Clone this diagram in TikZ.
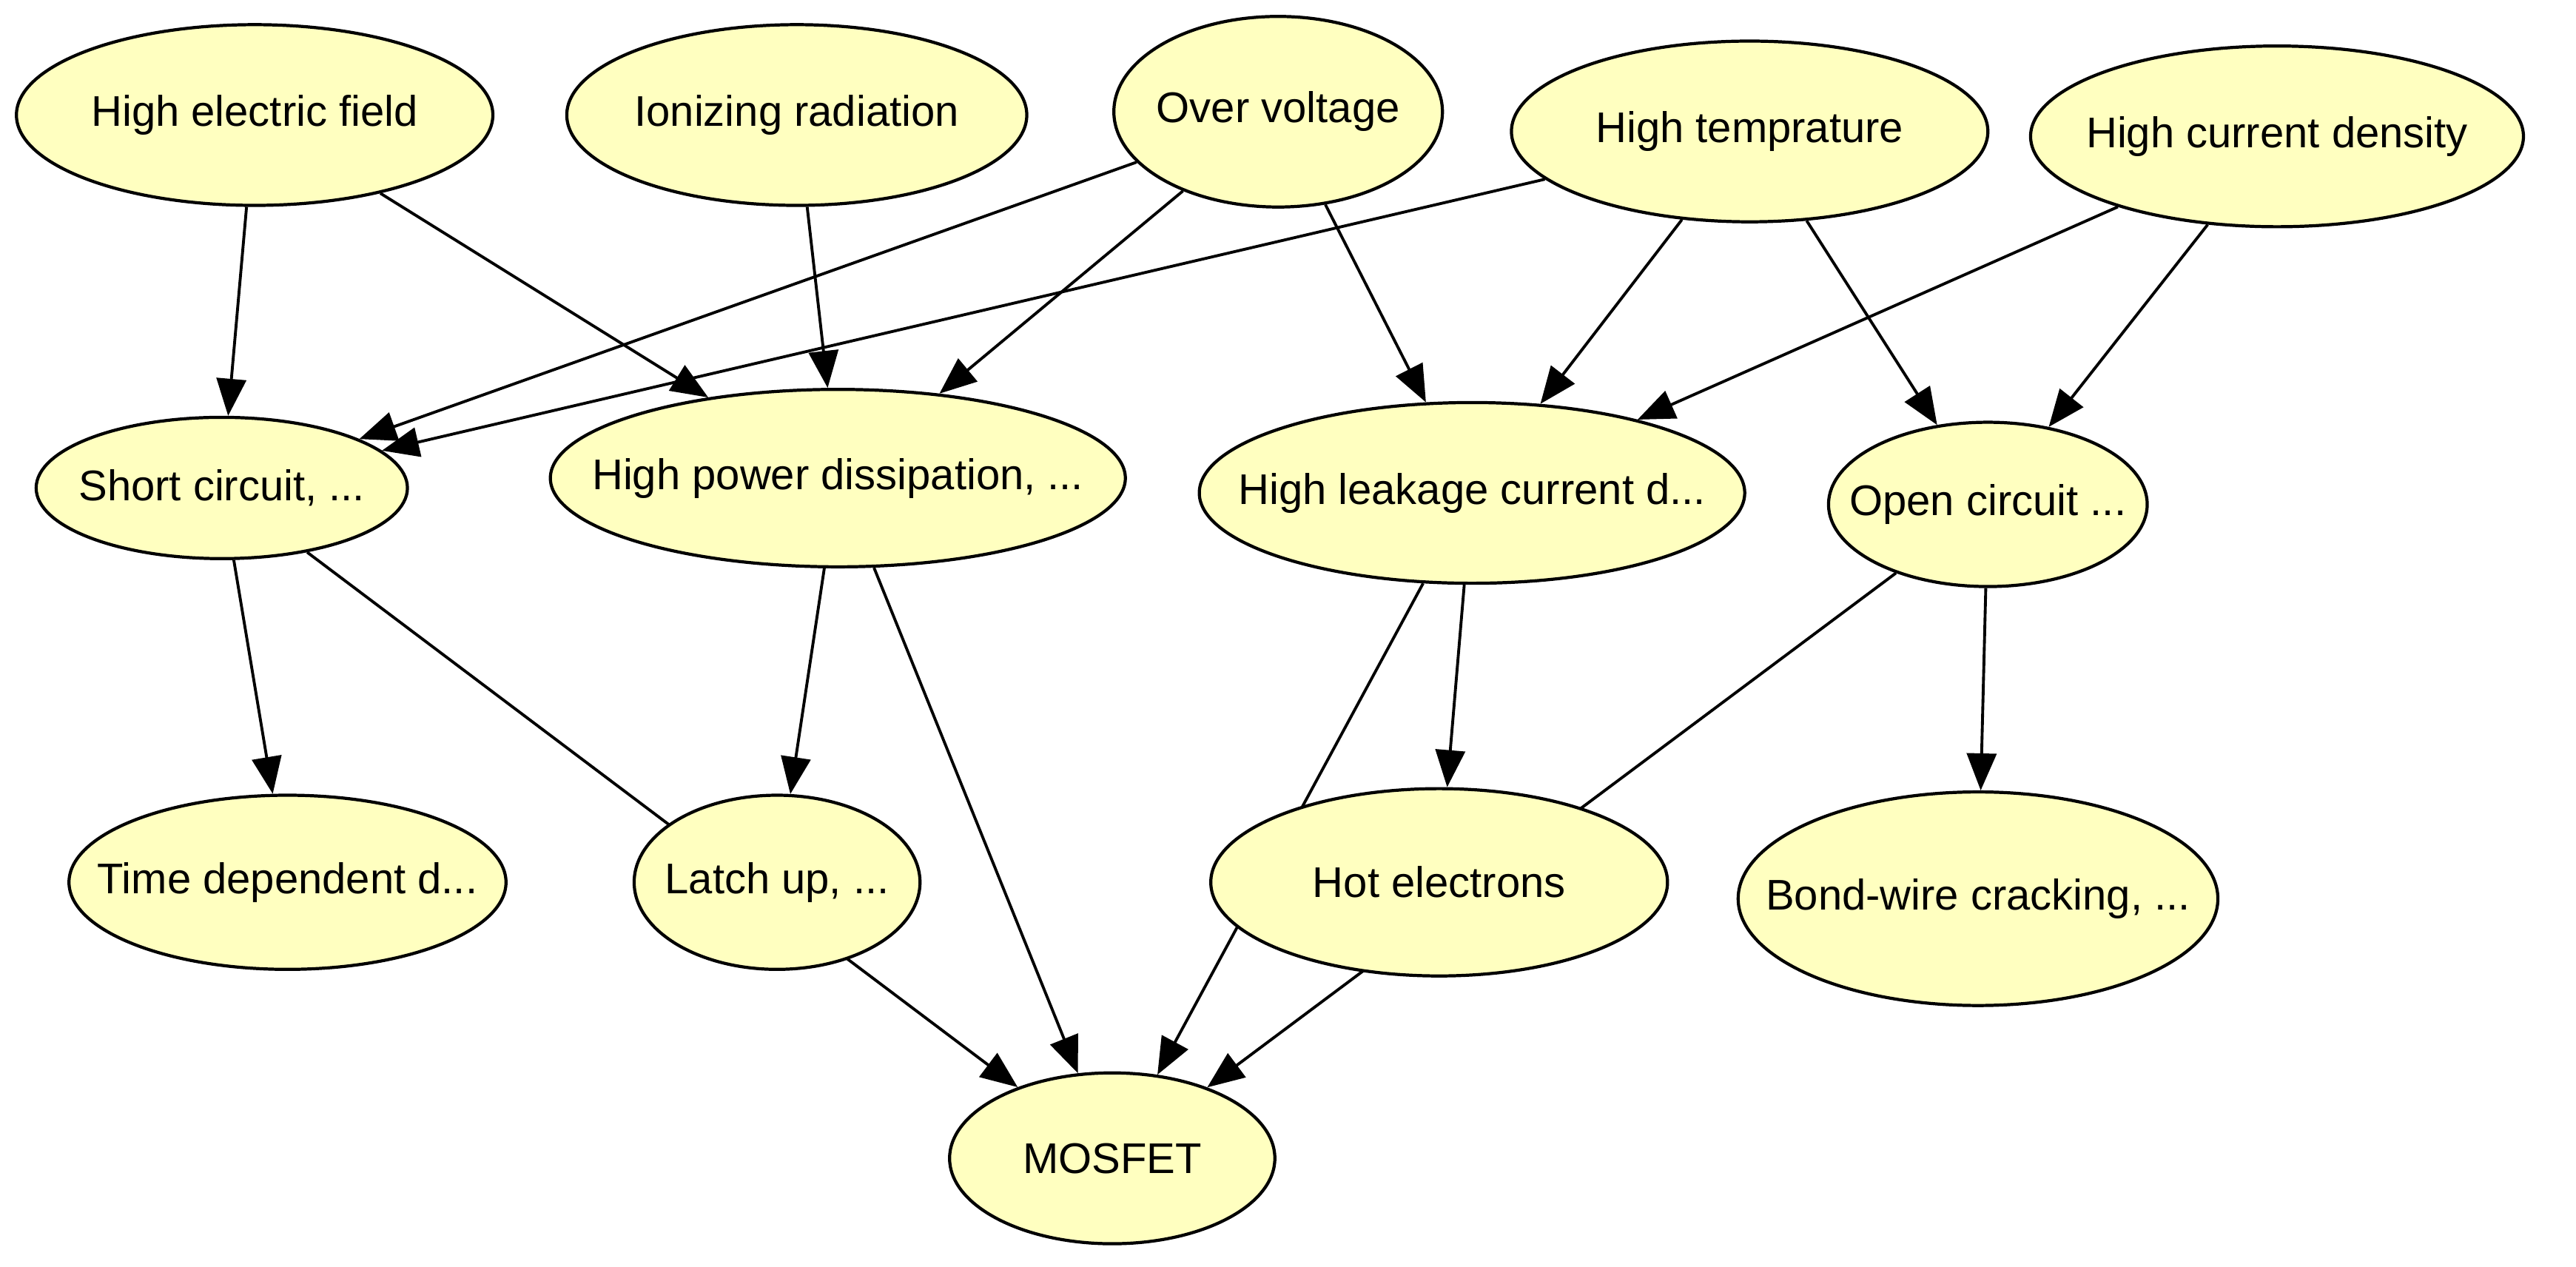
\documentclass[tikz,border=0pt]{standalone}
\usepackage{fontspec}
\setmainfont{Liberation Sans}
\usetikzlibrary{shapes.geometric,arrows.meta,backgrounds}
\definecolor{nodefill}{RGB}{255,255,192}
\begin{document}
\begin{tikzpicture}[x=0.0222cm,y=-0.0222cm,
  n/.style={ellipse,draw,line width=1.2pt,fill=nodefill,inner sep=0pt,font=\fontsize{16.5}{20}\selectfont},
  e/.style={line width=1.1pt,-{Triangle[length=0.5cm,width=0.4cm]}}]
\useasboundingbox (0,0) rectangle (1568,771);
\def\N#1#2#3#4#5#6{\node[n,minimum width=#4*0.0444cm,minimum height=#5*0.0444cm] (#1) at (#2,#3) {\makebox[0pt]{#6}};}
\N{hef}{155}{70}{145}{55}{High electric field}
\N{ir}{485}{70}{140}{55}{Ionizing radiation}
\N{ov}{778}{68}{100}{58}{Over voltage}
\N{ht}{1065}{80}{145}{55}{High temprature}
\N{hcd}{1386}{83}{150}{55}{High current density}
\N{sc}{135}{297}{113}{43}{Short circuit, ...}
\N{hpd}{510}{291}{175}{54}{High power dissipation, ...}
\N{hlc}{896}{300}{166}{55}{High leakage current d...}
\N{oc}{1210}{307}{97}{50}{Open circuit ...}
\N{tdd}{175}{537}{133}{53}{Time dependent d...}
\N{lu}{473}{537}{87}{53}{Latch up, ...}
\N{he}{876}{537}{139}{57}{Hot electrons}
\N{bw}{1204}{547}{146}{65}{Bond-wire cracking, ...}
\N{mos}{677}{705}{99}{52}{MOSFET}
\begin{scope}[on background layer]
\draw[e] (hef) -- (sc);
\draw[e] (hef) -- (hpd);
\draw[e] (ir) -- (hpd);
\draw[e] (ov) -- (sc);
\draw[e] (ov) -- (hpd);
\draw[e] (ov) -- (hlc);
\draw[e] (ht) -- (sc);
\draw[e] (ht) -- (hlc);
\draw[e] (ht) -- (oc);
\draw[e] (hcd) -- (hlc);
\draw[e] (hcd) -- (oc);
\draw[e] (sc) -- (tdd);
\draw[e] (hpd) -- (lu);
\draw[e] (hlc) -- (he);
\draw[e] (oc) -- (bw);
\draw[e] (sc) -- (mos);
\draw[e] (hpd) -- (mos);
\draw[e] (hlc) -- (mos);
\draw[e] (oc) -- (mos);
\end{scope}
\end{tikzpicture}
\end{document}
